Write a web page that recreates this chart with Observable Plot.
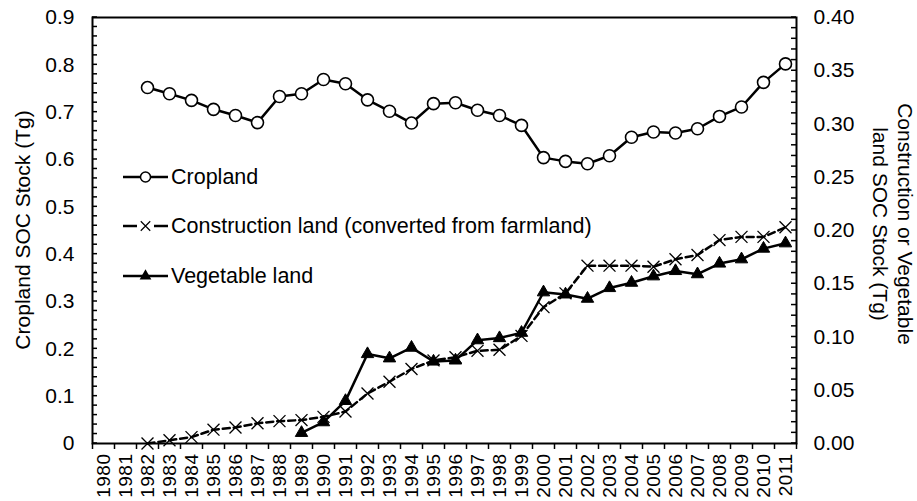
<!DOCTYPE html>
<html><head><meta charset="utf-8">
<script src="https://cdn.jsdelivr.net/npm/d3@7"></script>
<script src="https://cdn.jsdelivr.net/npm/@observablehq/plot@0.6"></script>
<style>
html,body{margin:0;padding:0;background:#fff;}
#chart{position:relative;width:917px;height:501px;overflow:hidden;}
</style></head><body><div id="chart"></div>
<script>
// ---- data ----
const years = [1980,1981,1982,1983,1984,1985,1986,1987,1988,1989,1990,1991,1992,1993,1994,1995,1996,1997,1998,1999,2000,2001,2002,2003,2004,2005,2006,2007,2008,2009,2010,2011];
const seriesYears = [1982,1983,1984,1985,1986,1987,1988,1989,1990,1991,1992,1993,1994,1995,1996,1997,1998,1999,2000,2001,2002,2003,2004,2005,2006,2007,2008,2009,2010,2011];
const cropland = [0.752,0.739,0.725,0.706,0.693,0.678,0.733,0.739,0.769,0.760,0.726,0.702,0.677,0.718,0.720,0.704,0.693,0.672,0.604,0.596,0.591,0.608,0.647,0.658,0.656,0.665,0.691,0.711,0.763,0.802];
const construction = [0.000,0.003,0.006,0.013,0.015,0.019,0.021,0.022,0.025,0.030,0.047,0.058,0.070,0.078,0.081,0.087,0.088,0.101,0.128,0.141,0.167,0.167,0.167,0.166,0.173,0.177,0.191,0.194,0.194,0.203];
const vegetableYears = [1989,1990,1991,1992,1993,1994,1995,1996,1997,1998,1999,2000,2001,2002,2003,2004,2005,2006,2007,2008,2009,2010,2011];
const vegetable = [0.010,0.020,0.040,0.084,0.080,0.090,0.077,0.078,0.097,0.099,0.104,0.142,0.140,0.136,0.146,0.151,0.157,0.162,0.159,0.169,0.173,0.183,0.188];
const leftTicks = [0,0.1,0.2,0.3,0.4,0.5,0.6,0.7,0.8,0.9];
const rightTicks = [0,0.05,0.10,0.15,0.20,0.25,0.30,0.35,0.40];
const legendLabels = ["Cropland","Construction land (converted from farmland)","Vegetable land"];
const leftTitle = "Cropland SOC Stock (Tg)";
const rightTitle = ["Construction or Vegetable","land SOC Stock (Tg)"];

// right axis (0–0.40) mapped onto left axis (0–0.9)
const K = 0.9 / 0.4;
const cropData = seriesYears.map((year, i) => ({year, value: cropland[i]}));
const consData = seriesYears.map((year, i) => ({year, value: construction[i] * K}));
const vegData = vegetableYears.map((year, i) => ({year, value: vegetable[i] * K}));
const bounds = years.map(y => y - 0.5).concat([years[years.length - 1] + 0.5]);

const font = "'Liberation Sans', Arial, Helvetica, sans-serif";
const plot = Plot.plot({
  width: 917, height: 501,
  marginLeft: 92, marginRight: 121, marginTop: 17, marginBottom: 58,
  style: {fontFamily: font, fontSize: "20px", color: "#000", background: "transparent", overflow: "visible"},
  x: {type: "linear", domain: [bounds[0], bounds[bounds.length - 1]]},
  y: {domain: [0, 0.9]},
  marks: [
    Plot.axisX({ticks: bounds, tickSize: 6, tickFormat: () => "", strokeWidth: 1.5, label: null}),
    Plot.axisX({ticks: years, tickSize: 0, tickPadding: 10, tickRotate: -90, tickFormat: d => String(d), label: null, fontSize: 19}),
    Plot.axisY({anchor: "left", ticks: leftTicks, tickSize: 0, tickPadding: 18, tickFormat: d => d === 0 ? "0" : d.toFixed(1), label: null, fontSize: 21}),
    Plot.axisY({anchor: "right", ticks: rightTicks.map(v => v * K), tickSize: 0, tickPadding: 17, tickFormat: d => (d / K).toFixed(2), label: null, fontSize: 21}),
    Plot.line(consData, {x: "year", y: "value", stroke: "#000", strokeWidth: 2.5, strokeDasharray: "7,4"}),
    Plot.dot(consData, {x: "year", y: "value", symbol: "times", r: 5.5, stroke: "#000", strokeWidth: 1.3}),
    Plot.line(vegData, {x: "year", y: "value", stroke: "#000", strokeWidth: 2.5}),
    Plot.dot(vegData, {x: "year", y: "value", symbol: "triangle", r: 4.6, fill: "#000", stroke: "#000", strokeWidth: 1}),
    Plot.line(cropData, {x: "year", y: "value", stroke: "#000", strokeWidth: 2.5}),
    Plot.dot(cropData, {x: "year", y: "value", symbol: "circle", r: 6, fill: "#fff", stroke: "#000", strokeWidth: 1.6}),
    Plot.frame({stroke: "#000", strokeWidth: 2})
  ]
});
document.getElementById("chart").appendChild(plot);

// ---- inner minor ticks, titles, legend ----
const svg = d3.select(plot);
svg.selectAll('g[aria-label="x-axis tick label"] text').attr("letter-spacing", "0.5px");
const xs = plot.scale("x"), ys = plot.scale("y");
const xL = xs.apply(bounds[0]), xR = xs.apply(bounds[bounds.length - 1]);
const tg = svg.append("g").attr("stroke", "#000").attr("stroke-width", 1.5);
d3.range(0, 46).forEach(i => {
  const y = ys.apply(i * 0.02);
  tg.append("line").attr("x1", xL).attr("x2", xL + 5).attr("y1", y).attr("y2", y);
});
d3.range(0, 41).forEach(i => {
  const y = ys.apply(i * 0.01 * K);
  tg.append("line").attr("x1", xR).attr("x2", xR - 5).attr("y1", y).attr("y2", y);
});

const yMid = (ys.apply(0) + ys.apply(0.9)) / 2;
svg.append("text").text(leftTitle)
  .attr("transform", `translate(22,${yMid}) rotate(-90)`)
  .attr("text-anchor", "middle").attr("dominant-baseline", "central")
  .attr("font-family", font).attr("font-size", 21).attr("fill", "#000");
rightTitle.forEach((t, i) => {
  svg.append("text").text(t)
    .attr("transform", `translate(${905 - i * 25},${yMid - 6}) rotate(90)`)
    .attr("text-anchor", "middle").attr("dominant-baseline", "central")
    .attr("font-family", font).attr("font-size", 21).attr("fill", "#000");
});

const lg = svg.append("g");
const rows = [177, 226, 276];
const lx0 = 123, lx1 = 168, lxm = 145.5;
rows.forEach((ry, i) => {
  if (i === 1) {
    lg.append("line").attr("x1", lx0).attr("x2", lx0 + 14).attr("y1", ry).attr("y2", ry).attr("stroke", "#000").attr("stroke-width", 2.5);
    lg.append("line").attr("x1", lx1 - 14).attr("x2", lx1).attr("y1", ry).attr("y2", ry).attr("stroke", "#000").attr("stroke-width", 2.5);
    lg.append("path").attr("d", d3.symbol(d3.symbolTimes, 60)()).attr("transform", `translate(${lxm},${ry})`).attr("stroke", "#000").attr("stroke-width", 1.2).attr("fill", "none");
  } else {
    lg.append("line").attr("x1", lx0).attr("x2", lx1).attr("y1", ry).attr("y2", ry).attr("stroke", "#000").attr("stroke-width", 2.5);
    if (i === 0) lg.append("circle").attr("cx", lxm).attr("cy", ry).attr("r", 5).attr("fill", "#fff").attr("stroke", "#000").attr("stroke-width", 1.5);
    else lg.append("path").attr("d", d3.symbol(d3.symbolTriangle, 60)()).attr("transform", `translate(${lxm},${ry})`).attr("fill", "#000");
  }
  lg.append("text").text(legendLabels[i]).attr("x", 171).attr("y", ry)
    .attr("text-anchor", "start")
    .attr("dominant-baseline", "central").attr("font-family", font).attr("font-size", 21.5).attr("fill", "#000");
});
</script>
</body></html>
